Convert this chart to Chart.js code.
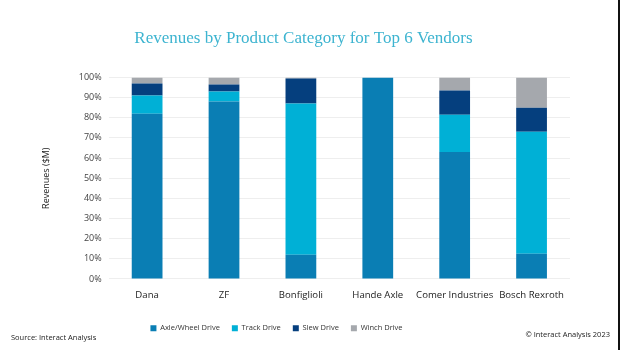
<!DOCTYPE html>
<html>
<head>
<meta charset="utf-8">
<script src="https://cdn.jsdelivr.net/npm/chart.js@4"></script>
<style>
  body { margin: 0; background: #fff; }
  #wrap { position: relative; width: 620px; height: 350px; box-sizing: border-box; border-right: 2px solid #111; }
  .note { position: absolute; font-family: "Open Sans", sans-serif; font-size: 7.5px; color: #222; }
</style>
</head>
<body>
<div id="wrap">
  <canvas id="myChart" width="618" height="350"></canvas>
  <span class="note" style="left:11px; top:332px;">Source: Interact Analysis</span>
  <span class="note" style="right:8px; top:329px;">© Interact Analysis 2023</span>
</div>
<script>
var vendors = ['Dana', 'ZF', 'Bonfiglioli', 'Hande Axle', 'Comer Industries', 'Bosch Rexroth'];
var axleWheel = [82, 88, 12, 100, 63, 12.5];
var trackDrive = [9, 5, 75, 0, 18.5, 60.5];
var slewDrive = [6, 3.5, 12.5, 0, 12, 12];
var winchDrive = [3, 3.5, 0.5, 0, 6.5, 15];
var yTicks = [0, 10, 20, 30, 40, 50, 60, 70, 80, 90, 100];

var ctx = document.getElementById('myChart');
var data = {
    labels: vendors,
    datasets: [
        { label: 'Axle/Wheel Drive', data: axleWheel, backgroundColor: '#0A7EB4' },
        { label: 'Track Drive', data: trackDrive, backgroundColor: '#00B0D6' },
        { label: 'Slew Drive', data: slewDrive, backgroundColor: '#053F7E' },
        { label: 'Winch Drive', data: winchDrive, backgroundColor: '#A5A8AD' }
    ]
};

// the legend in the original sits a bit left of centre
var shiftLegend = {
    id: 'shiftLegend',
    afterLayout: function (chart) {
        chart.legend.left -= 27;
        chart.legend.right -= 27;
    }
};

var chart = new Chart(ctx, {
    type: 'bar',
    data: data,
    plugins: [shiftLegend],
    options: {
        responsive: false,
        animation: false,
        layout: { padding: { left: 37, right: 48, top: 0, bottom: 8 } },
        datasets: { bar: { barPercentage: 0.4, categoryPercentage: 1 } },
        plugins: {
            title: {
                display: true,
                text: 'Revenues by Product Category for Top 6 Vendors',
                color: '#3DB4D0',
                font: { family: '"Liberation Serif", serif', size: 17, weight: 'normal' },
                padding: { top: 28, bottom: 29 }
            },
            legend: {
                position: 'bottom',
                labels: {
                    boxWidth: 6,
                    boxHeight: 6,
                    color: '#333',
                    padding: 12,
                    font: { family: '"Open Sans", sans-serif', size: 7.5 }
                }
            },
            tooltip: { enabled: false }
        },
        scales: {
            x: {
                stacked: true,
                grid: { display: false },
                border: { display: false },
                afterFit: function (axis) { axis.height += 8; },
                ticks: {
                    color: '#222',
                    maxRotation: 0,
                    autoSkip: false,
                    font: { family: '"Open Sans", sans-serif', size: 9.6 },
                    padding: 3
                }
            },
            y: {
                stacked: true,
                min: 0,
                max: 100,
                afterBuildTicks: function (axis) {
                    axis.ticks = yTicks.map(function (v) { return { value: v }; });
                },
                grid: { color: '#EEEEEE', drawTicks: false },
                border: { display: false },
                ticks: {
                    color: '#444',
                    padding: 7,
                    font: { family: '"Open Sans", sans-serif', size: 9 },
                    callback: function (v) { return v + '%'; }
                },
                title: {
                    display: true,
                    text: 'Revenues ($M)',
                    color: '#222',
                    padding: { bottom: 20 },
                    font: { family: '"Open Sans", sans-serif', size: 9 }
                }
            }
        }
    }
});
</script>
</body>
</html>
